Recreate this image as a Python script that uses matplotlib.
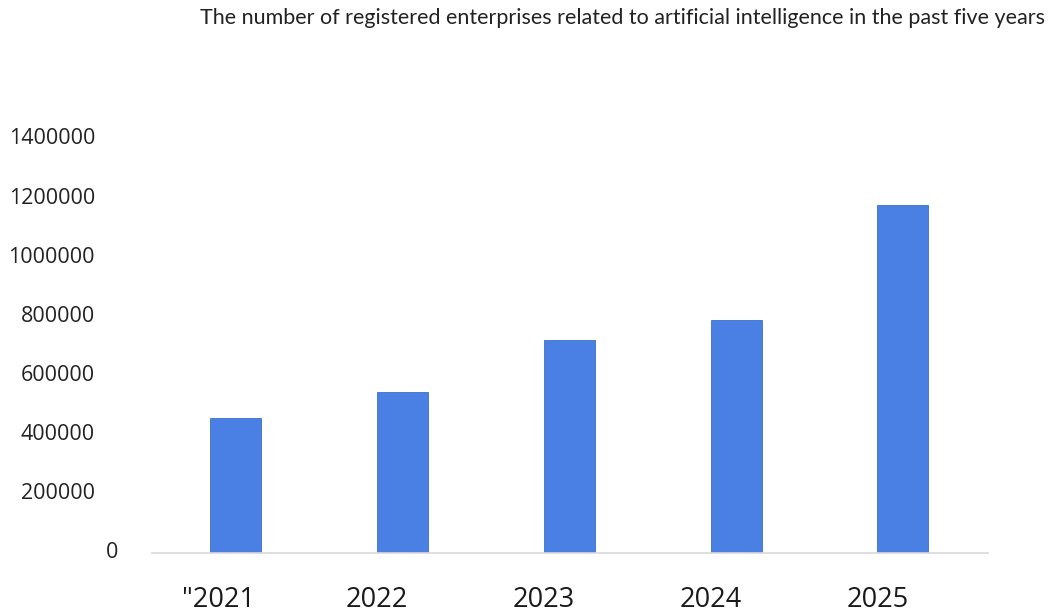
import matplotlib.pyplot as plt
from matplotlib.transforms import offset_copy

# Data
years = ['"2021', '2022', '2023', '2024', '2025']
enterprises = [456000, 544000, 720000, 788000, 1177000]
y_ticks = [0, 200000, 400000, 600000, 800000, 1000000, 1200000, 1400000]

bar_color = '#4a7fe4'

fig = plt.figure(figsize=(10.51, 6.13), dpi=100)
ax = fig.add_axes([152 / 1051, 60 / 613, 836 / 1051, 414 / 613])

x = list(range(len(years)))
ax.bar(x, enterprises, width=0.306, color=bar_color, edgecolor='#3f70cc', linewidth=0.6, zorder=2)

ax.set_xlim(-0.5, 4.51)
ax.set_ylim(0, 1400000)

# Only the baseline is shown
for side in ['top', 'right', 'left']:
    ax.spines[side].set_visible(False)
ax.spines['bottom'].set_color('#d9d9d9')
ax.spines['bottom'].set_linewidth(1.2)

ax.set_xticks([])
ax.set_yticks([])

# x labels sit a bit to the left of their bars in the original
xtrans = ax.get_xaxis_transform()
for i, lab in enumerate(years):
    dx = -17 if i == 0 else -25
    tr = offset_copy(xtrans, fig=fig, x=dx, y=-47, units='dots')
    ax.text(i, 0, lab, transform=tr, ha='center', va='center',
            fontsize=19.5, family='Open Sans', color='#1a1a1a')

# y labels: the 0 sits closer to the axis than the others
ytrans = ax.get_yaxis_transform()
for v in y_ticks:
    dx = -34 if v == 0 else -57
    tr = offset_copy(ytrans, fig=fig, x=dx, y=0, units='dots')
    ax.text(0, v, str(v), transform=tr, ha='right', va='center',
            fontsize=15.5, family='Open Sans', color='#222222')

fig.text(1045 / 1051, 1 - 18 / 613,
         'The number of registered enterprises related to artificial intelligence in the past five years',
         ha='right', va='center', fontsize=15.5, family='Lato', color='#222222')

fig.savefig('out.png', dpi=100)
